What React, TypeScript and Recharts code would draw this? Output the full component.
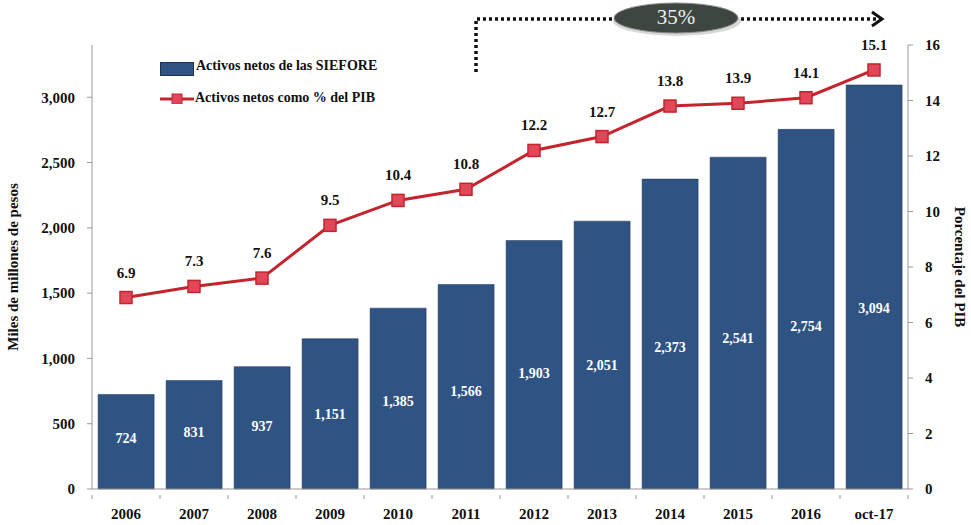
import React from 'react';
import {
  ComposedChart,
  Bar,
  Line,
  XAxis,
  YAxis,
  LabelList,
} from 'recharts';

const YEARS = ['2006', '2007', '2008', '2009', '2010', '2011', '2012', '2013', '2014', '2015', '2016', 'oct-17'];
const ACTIVOS = [724, 831, 937, 1151, 1385, 1566, 1903, 2051, 2373, 2541, 2754, 3094];
const PIB = [6.9, 7.3, 7.6, 9.5, 10.4, 10.8, 12.2, 12.7, 13.8, 13.9, 14.1, 15.1];
const LEFT_TICKS = [0, 500, 1000, 1500, 2000, 2500, 3000];
const RIGHT_TICKS = [0, 2, 4, 6, 8, 10, 12, 14, 16];
const GROWTH = '35%';

const data = YEARS.map((y, i) => ({ year: y, activos: ACTIVOS[i], pib: PIB[i] }));

const FONT = '"Liberation Serif", "DejaVu Serif", serif';
const BLUE = '#2f5383';
const RED = '#c3242d';

const fmt = (v: number) => v.toLocaleString('en-US');

function BarValue(props: any) {
  const { x, y, width, height, value } = props;
  const bottom = y + height;
  const ty = bottom - (height * 0.42 + 10);
  return (
    <text x={x + width / 2} y={ty} textAnchor="middle" dominantBaseline="middle"
      fill="#fff" fontSize={14} fontWeight="bold" fontFamily={FONT}>
      {fmt(value)}
    </text>
  );
}

// year label plus a small tick at the left edge of each category band
function YearTick(props: any) {
  const { x, y, payload, index, visibleTicksCount } = props;
  const half = payload && payload.offset ? payload.offset : 0;
  return (
    <g>
      {half > 0 && (
        <line x1={x - half} y1={y - 12} x2={x - half} y2={y - 8} stroke="#999" />
      )}
      {half > 0 && index === visibleTicksCount - 1 && (
        <line x1={x + half} y1={y - 12} x2={x + half} y2={y - 8} stroke="#999" />
      )}
      <text x={x} y={y} dy={12} textAnchor="middle" fill="#111" fontSize={15}
        fontWeight="bold" fontFamily={FONT}>
        {payload.value}
      </text>
    </g>
  );
}

function LegendBox() {
  return (
    <div style={{ position: 'absolute', left: 160, top: 55, fontFamily: FONT, fontWeight: 'bold', fontSize: 14, color: '#111' }}>
      <div style={{ display: 'flex', alignItems: 'center', height: 22 }}>
        <span style={{ display: 'inline-block', width: 32, height: 12, background: BLUE, border: '1px solid #1d3350', marginRight: 2, marginTop: 6 }} />
        Activos netos de las SIEFORE
      </div>
      <div style={{ display: 'flex', alignItems: 'center', height: 22, marginTop: 10 }}>
        <svg width={34} height={12} style={{ marginRight: 1 }}>
          <line x1={0} y1={7} x2={34} y2={7} stroke={RED} strokeWidth={3} />
          <rect x={12} y={2} width={10} height={10} fill="#e0485a" stroke={RED} />
        </svg>
        Activos netos como % del PIB
      </div>
    </div>
  );
}

export default function App() {
  return (
    <div style={{ position: 'absolute', left: 0, top: 0, width: 971, height: 525, background: '#fff' }}>
      <ComposedChart width={971} height={525} data={data}
        margin={{ top: 45, right: 0, bottom: 0, left: 0 }} barCategoryGap="9%">
        <XAxis dataKey="year" height={36} tickLine={false}
          axisLine={{ stroke: '#999' }}
          tick={<YearTick />}
          tickMargin={12} />
        <YAxis yAxisId="left" width={92} domain={[0, 3400]} ticks={LEFT_TICKS}
          tickFormatter={fmt} axisLine={{ stroke: '#999' }} tickLine={{ stroke: '#999' }}
          tickSize={5} tickMargin={12}
          tick={{ fill: '#111', fontSize: 15, fontWeight: 'bold', fontFamily: FONT }}
          label={{ value: 'Miles de millones de pesos', angle: -90, position: 'insideLeft', dx: 8, dy: 0,
            style: { textAnchor: 'middle', fill: '#111', fontSize: 15, fontWeight: 'bold', fontFamily: FONT } }} />
        <YAxis yAxisId="right" orientation="right" width={63} domain={[0, 16]} ticks={RIGHT_TICKS}
          axisLine={{ stroke: '#999' }} tickLine={{ stroke: '#999' }} tickSize={5} tickMargin={12}
          tick={{ fill: '#111', fontSize: 15, fontWeight: 'bold', fontFamily: FONT }}
          label={{ value: 'Porcentaje del PIB', angle: 90, position: 'insideRight', dx: -6,
            style: { textAnchor: 'middle', fill: '#111', fontSize: 15, fontWeight: 'bold', fontFamily: FONT } }} />
        <Bar yAxisId="left" dataKey="activos" fill={BLUE} stroke="#1d3350" strokeWidth={0.5}
          isAnimationActive={false}>
          <LabelList dataKey="activos" content={<BarValue />} />
        </Bar>
        <Line yAxisId="right" dataKey="pib" stroke={RED} strokeWidth={3}
          isAnimationActive={false} activeDot={false}
          dot={(p: any) => (
            <rect key={p.index} x={p.cx - 6} y={p.cy - 6} width={12} height={12}
              fill="#e0485a" stroke={RED} strokeWidth={1.5} />
          )}>
          <LabelList dataKey="pib" position="top" offset={20}
            formatter={(v: any) => Number(v).toFixed(1)}
            style={{ fill: '#111', fontSize: 15, fontWeight: 'bold', fontFamily: FONT }} />
        </Line>
      </ComposedChart>
      <LegendBox />
      <svg width={971} height={525} style={{ position: 'absolute', left: 0, top: 0, pointerEvents: 'none' }}>
        <polyline points="476,72 476,19 880,19" fill="none" stroke="#111" strokeWidth={3.5}
          strokeDasharray="3 3" />
        <polyline points="872,12 882,19 872,26" fill="none" stroke="#111" strokeWidth={3} />
        <ellipse cx={677} cy={21} rx={64} ry={15} fill="#d8d8d8" />
        <ellipse cx={676} cy={18} rx={62} ry={15} fill="#3d473f" stroke="#888" strokeWidth={1} />
        <text x={676} y={19} textAnchor="middle" dominantBaseline="middle" fill="#eee"
          fontSize={21} fontFamily={FONT}>{GROWTH}</text>
      </svg>
    </div>
  );
}
